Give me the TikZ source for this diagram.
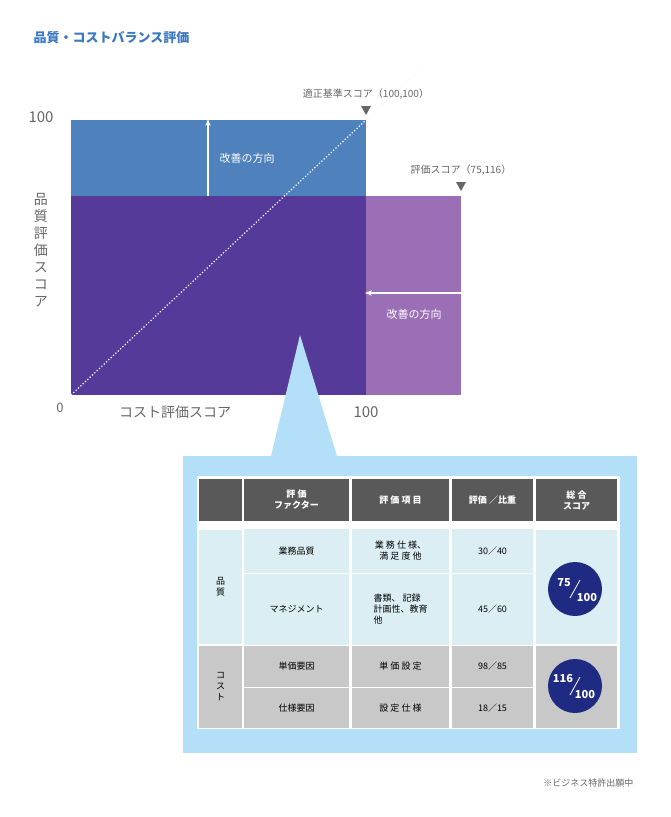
\documentclass[tikz,border=0pt]{standalone}
\usepackage{fontspec}
\usetikzlibrary{arrows.meta}
\setmainfont{Noto Sans CJK JP}
\begin{document}
\begin{tikzpicture}[x=1pt,y=-1pt,
  lbl/.style={font=\fontsize{11}{13}\selectfont,text=white},
  hd/.style={fill=hdc,draw=white,line width=1.5pt,font=\fontsize{9}{11}\selectfont\bfseries,text=white,align=center},
  qc/.style={fill=qcol,draw=white,line width=1.5pt,font=\fontsize{9}{11}\selectfont,align=center},
  cc/.style={fill=ccol,draw=white,line width=1.5pt,font=\fontsize{9}{11}\selectfont,align=center},
  gl/.style={text=gray!80!black,font=\fontsize{10}{12}\selectfont},
  circ/.style={circle,fill=navy,minimum size=54pt,inner sep=0pt}]
\definecolor{bluec}{HTML}{4F81BD}\definecolor{dpur}{HTML}{553A9A}\definecolor{lpur}{HTML}{9A6FB5}
\definecolor{hdc}{HTML}{595959}\definecolor{qcol}{HTML}{DBEEF4}\definecolor{ccol}{HTML}{C8C8C8}
\definecolor{panel}{HTML}{B3E0F8}\definecolor{navy}{HTML}{1F2A82}\definecolor{titc}{HTML}{3A78C0}
\useasboundingbox (0,0) rectangle (670,817);
\node[anchor=west,text=titc,font=\fontsize{13}{15}\selectfont\bfseries] (title) at (30,38) {品質・コストバランス評価};
% chart
\fill[bluec] (71,120) rectangle (366,196);
\fill[dpur] (71,196) rectangle (366,395);
\fill[lpur] (366,196) rectangle (461,395);
\draw[white,dotted,line width=1.2pt] (71,395) -- (366,120);
\draw[white!85!gray,dotted,line width=0.8pt] (366,120) -- (422,68);
\fill[gray!80!black] (361,106) -- (371,106) -- (366,115) -- cycle;
\fill[gray!80!black] (456,182) -- (466,182) -- (461,191) -- cycle;
\node[gl,anchor=south] (ref) at (366,103) {適正基準スコア（100,100）};
\node[gl,anchor=south] (ev) at (461,179) {評価スコア（75,116）};
\coordinate (ua) at (208,196); \coordinate (ub) at (208,119);
\draw[white,line width=2pt,-{Stealth[length=7pt]}] (ua) -- (ub);
\node[lbl,anchor=west] (l1) at (216,158) {改善の方向};
\coordinate (la) at (461,293); \coordinate (lb) at (365,293);
\draw[white,line width=2pt,-{Stealth[length=7pt]}] (la) -- (lb);
\node[lbl] (l2) at (414,314) {改善の方向};
\node[text=gray!80!black,font=\fontsize{15}{17}\selectfont] (y100) at (41,117) {100};
\node[text=gray!80!black,font=\fontsize{13}{15}\selectfont] (y0) at (60,408) {0};
\node[text=gray!80!black,font=\fontsize{15}{17}\selectfont] (x100) at (366,412) {100};
\node[text=gray!80!black,font=\fontsize{14}{16}\selectfont] (xl) at (175,412) {コスト評価スコア};
\node[text=gray!80!black,font=\fontsize{14}{17}\selectfont,align=center] (yl) at (41,250) {品\\質\\評\\価\\ス\\コ\\ア};
% callout
\fill[panel] (300,335) -- (271,456) -- (337,456) -- cycle;
\fill[panel] (183,456) rectangle (637,753);
\fill[white] (197,476) rectangle (620,729);
% table
\node[hd,minimum width=44pt,minimum height=44pt] (h0) at (220.5,500) {};
\node[hd,minimum width=107pt,minimum height=44pt] (h1) at (296.5,500) {評 価\\ファクター};
\node[hd,minimum width=99pt,minimum height=44pt] (h2) at (400.5,500) {評 価 項 目};
\node[hd,minimum width=83pt,minimum height=44pt] (h3) at (492.5,500) {評価 ／比重};
\node[hd,minimum width=83pt,minimum height=44pt] (h4) at (576.5,500) {総 合\\スコア};
\node[qc,minimum width=44pt,minimum height=116pt] (q0) at (220.5,587) {品\\質};
\node[qc,minimum width=107pt,minimum height=45pt] (q1) at (296.5,551) {業務品質};
\node[qc,minimum width=99pt,minimum height=45pt] (q2) at (400.5,551) {業 務 仕 様、\\満 足 度 他};
\node[qc,minimum width=83pt,minimum height=45pt] (q3) at (492.5,551) {30／40};
\node[qc,minimum width=107pt,minimum height=72pt] (r1) at (296.5,609.5) {マネジメント};
\node[qc,minimum width=99pt,minimum height=72pt,align=left] (r2) at (400.5,609.5) {書類、 記録\\計画性、教育\\他};
\node[qc,minimum width=83pt,minimum height=72pt] (r3) at (492.5,609.5) {45／60};
\node[qc,minimum width=83pt,minimum height=116pt] (q4) at (576.5,587) {};
\node[cc,minimum width=44pt,minimum height=83pt] (c0) at (220.5,687) {コ\\ス\\ト};
\node[cc,minimum width=107pt,minimum height=42pt] (c1) at (296.5,666.5) {単価要因};
\node[cc,minimum width=99pt,minimum height=42pt] (c2) at (400.5,666.5) {単 価 設 定};
\node[cc,minimum width=83pt,minimum height=42pt] (c3) at (492.5,666.5) {98／85};
\node[cc,minimum width=107pt,minimum height=41pt] (d1) at (296.5,708) {仕様要因};
\node[cc,minimum width=99pt,minimum height=41pt] (d2) at (400.5,708) {設 定 仕 様};
\node[cc,minimum width=83pt,minimum height=41pt] (d3) at (492.5,708) {18／15};
\node[cc,minimum width=83pt,minimum height=83pt] (c4) at (576.5,687) {};
\node[circ] (s1) at (575,589) {};
\node[circ] (s2) at (575,686) {};
\draw[white,line width=0.8pt] ([shift={(-5,9)}]s1.center) -- ([shift={(5,-9)}]s1.center);
\draw[white,line width=0.8pt] ([shift={(-5,9)}]s2.center) -- ([shift={(5,-9)}]s2.center);
\node[text=white,font=\fontsize{11}{13}\selectfont\bfseries] (s1a) at ([shift={(-11,-6)}]s1.center) {75};
\node[text=white,font=\fontsize{11}{13}\selectfont\bfseries] (s1b) at ([shift={(12,8)}]s1.center) {100};
\node[text=white,font=\fontsize{11}{13}\selectfont\bfseries] (s2a) at ([shift={(-12,-8)}]s2.center) {116};
\node[text=white,font=\fontsize{11}{13}\selectfont\bfseries] (s2b) at ([shift={(10,8)}]s2.center) {100};
\node[anchor=east,text=gray!80!black,font=\fontsize{9}{11}\selectfont] (foot) at (637,783) {※ビジネス特許出願中};
\end{tikzpicture}
\end{document}
